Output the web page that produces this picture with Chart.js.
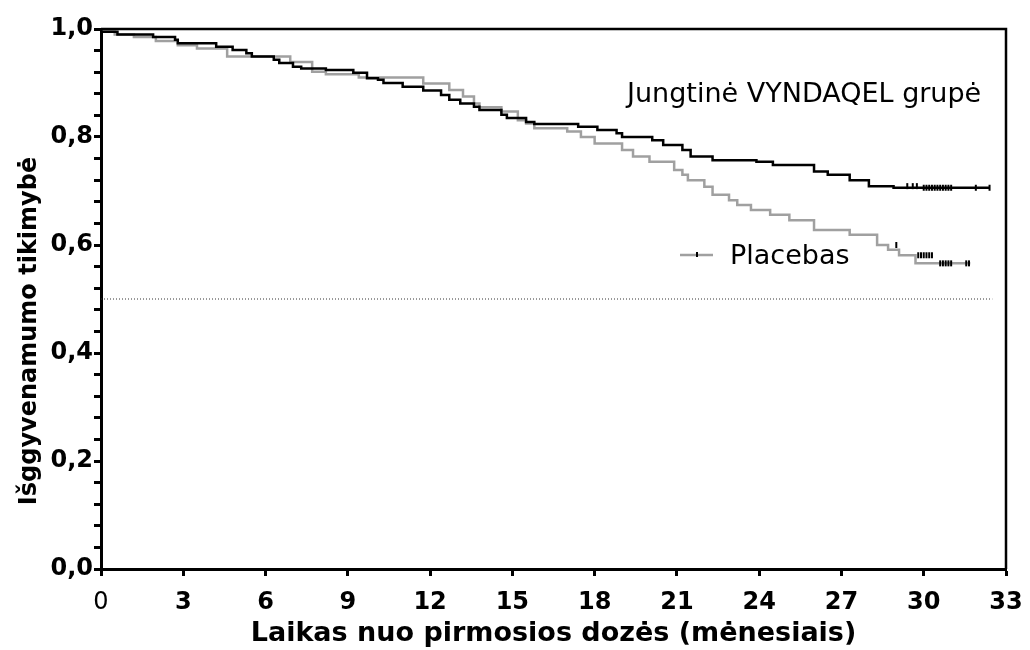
<!DOCTYPE html>
<html>
<head>
<meta charset="utf-8">
<script src="https://cdn.jsdelivr.net/npm/chart.js@4"></script>
<style>
  body { margin: 0; background: #fff; }
  #wrap { width: 1030px; height: 650px; }
</style>
</head>
<body>
<div id="wrap"><canvas id="km"></canvas></div>
<script>
// Kaplan-Meier kreivės: laikas (mėn.) ir išgyvenamumas
const vyndTime = [0, 0.6, 1.9, 2.7, 2.8, 4.2, 4.8, 5.3, 5.5, 6.3, 6.5, 7.0, 7.3, 8.2, 9.2, 9.7, 10.1, 10.3, 11.0, 11.75, 12.4, 12.7, 13.1, 13.6, 13.8, 14.6, 14.8, 15.5, 15.8, 17.4, 18.1, 18.8, 19.0, 20.1, 20.5, 21.2, 21.5, 22.3, 23.9, 24.5, 26.0, 26.5, 27.3, 28.0, 28.9, 30.0, 32.4];
const vyndSurv = [1.0, 0.995, 0.990, 0.985, 0.980, 0.9735, 0.967, 0.961, 0.955, 0.949, 0.943, 0.937, 0.930, 0.927, 0.924, 0.919, 0.909, 0.906, 0.900, 0.893, 0.886, 0.878, 0.869, 0.862, 0.856, 0.850, 0.841, 0.835, 0.828, 0.824, 0.819, 0.813, 0.807, 0.800, 0.794, 0.785, 0.776, 0.764, 0.757, 0.754, 0.748, 0.736, 0.730, 0.720, 0.709, 0.706, 0.706];

const placTime = [0, 0.5, 1.2, 2.0, 2.8, 3.5, 4.6, 6.9, 7.7, 8.2, 9.4, 11.75, 12.7, 13.2, 13.6, 13.8, 14.6, 15.2, 15.5, 15.8, 17.0, 17.5, 18.0, 19.0, 19.4, 20.0, 20.9, 21.2, 21.4, 22.0, 22.3, 22.9, 23.2, 23.7, 24.4, 25.1, 26.0, 27.3, 28.3, 28.7, 29.1, 29.7, 30.5, 31.7];
const placSurv = [1.0, 0.995, 0.990, 0.985, 0.978, 0.970, 0.964, 0.949, 0.939, 0.921, 0.916, 0.910, 0.899, 0.887, 0.875, 0.862, 0.855, 0.847, 0.831, 0.825, 0.816, 0.810, 0.800, 0.788, 0.776, 0.764, 0.754, 0.739, 0.730, 0.720, 0.708, 0.693, 0.683, 0.674, 0.665, 0.656, 0.646, 0.628, 0.619, 0.600, 0.591, 0.581, 0.566, 0.566];

// cenzūruoti stebėjimai
const vyndCensT = [29.4, 29.6, 29.75, 30.0, 30.1, 30.2, 30.3, 30.4, 30.5, 30.6, 30.7, 30.8, 30.9, 31.0, 31.9, 32.4];
const vyndCensS = [0.709, 0.709, 0.709, 0.706, 0.706, 0.706, 0.706, 0.706, 0.706, 0.706, 0.706, 0.706, 0.706, 0.706, 0.706, 0.706];
const placCensT = [29.0, 29.8, 29.9, 30.0, 30.1, 30.2, 30.3, 30.6, 30.7, 30.8, 30.9, 31.0, 31.55, 31.65];
const placCensS = [0.600, 0.581, 0.581, 0.581, 0.581, 0.581, 0.581, 0.566, 0.566, 0.566, 0.566, 0.566, 0.566, 0.566];

const medianT = [0, 32.5];
const medianS = [0.5, 0.5];

const xTicks = [0, 3, 6, 9, 12, 15, 18, 21, 24, 27, 30, 33];

function pts(t, s) {
  return t.map((v, i) => ({ x: v, y: s[i] }));
}

const FONT = '"DejaVu Sans", "Liberation Sans", Arial, sans-serif';

const decor = {
  id: 'decor',
  afterDraw(chart) {
    const { ctx, chartArea: a } = chart;
    ctx.save();
    // viršutinė ir dešinė rėmelio linijos
    ctx.strokeStyle = '#000';
    ctx.lineWidth = 2.5;
    ctx.beginPath();
    ctx.moveTo(a.left, a.top);
    ctx.lineTo(a.right, a.top);
    ctx.lineTo(a.right, a.bottom);
    ctx.stroke();

    ctx.fillStyle = '#000';
    ctx.textBaseline = 'alphabetic';
    ctx.font = '27px ' + FONT;
    ctx.fillText('Jungtinė VYNDAQEL grupė', 627, 102);
    ctx.fillText('Placebas', 730, 264);

    // legendos linija
    ctx.strokeStyle = '#a0a0a0';
    ctx.lineWidth = 2.5;
    ctx.beginPath();
    ctx.moveTo(680, 255);
    ctx.lineTo(713, 255);
    ctx.stroke();
    ctx.strokeStyle = '#000';
    ctx.lineWidth = 2;
    ctx.beginPath();
    ctx.moveTo(697, 252);
    ctx.lineTo(697, 257);
    ctx.stroke();

    // y ašies pavadinimas
    ctx.font = 'bold 24px ' + FONT;
    ctx.textAlign = 'center';
    ctx.translate(36, 331);
    ctx.rotate(-Math.PI / 2);
    ctx.fillText('Išggyvenamumo tikimybė', 0, 0);
    ctx.restore();
  }
};

new Chart(document.getElementById('km').getContext('2d'), {
  type: 'line',
  data: {
    datasets: [
      {
        data: pts(vyndCensT, vyndCensS),
        showLine: false,
        pointStyle: 'line',
        rotation: 90,
        pointRadius: 3,
        borderColor: '#000',
        pointBorderWidth: 2,
        order: 0
      },
      {
        data: pts(placCensT, placCensS),
        showLine: false,
        pointStyle: 'line',
        rotation: 90,
        pointRadius: 3,
        borderColor: '#000',
        pointBorderWidth: 2,
        order: 0
      },
      {
        data: pts(vyndTime, vyndSurv),
        borderColor: '#000',
        borderWidth: 2.5,
        stepped: 'after',
        pointRadius: 0,
        fill: false,
        order: 1
      },
      {
        data: pts(placTime, placSurv),
        borderColor: '#a0a0a0',
        borderWidth: 2.5,
        stepped: 'after',
        pointRadius: 0,
        fill: false,
        order: 2
      },
      {
        data: pts(medianT, medianS),
        borderColor: '#333',
        borderWidth: 1,
        borderDash: [1, 2],
        pointRadius: 0,
        fill: false,
        order: 3
      }
    ]
  },
  options: {
    responsive: true,
    maintainAspectRatio: false,
    animation: false,
    layout: { padding: { top: 29, right: 24, left: 0, bottom: 0 } },
    plugins: {
      legend: { display: false },
      tooltip: { enabled: false }
    },
    scales: {
      x: {
        type: 'linear',
        min: 0,
        max: 33,
        afterBuildTicks(scale) {
          scale.ticks = xTicks.map(v => ({ value: v }));
        },
        afterFit(scale) {
          scale.height = 81;
          scale.paddingLeft = 0;
          scale.paddingRight = 0;
        },
        grid: {
          drawOnChartArea: false,
          drawTicks: true,
          tickLength: 7,
          tickWidth: 3,
          tickColor: '#000'
        },
        border: { display: true, color: '#000', width: 3 },
        ticks: {
          color: '#000',
          padding: 12,
          maxRotation: 0,
          autoSkip: false,
          font: (c) => ({
            family: FONT,
            size: 24,
            weight: c.tick && c.tick.value === 0 ? 'normal' : 'bold'
          })
        },
        title: {
          display: true,
          text: 'Laikas nuo pirmosios dozės (mėnesiais)',
          color: '#000',
          font: { family: FONT, size: 27, weight: 'bold' },
          padding: { top: 0, bottom: 0 }
        }
      },
      y: {
        min: 0,
        max: 1,
        afterBuildTicks(scale) {
          const t = [];
          for (let i = 0; i <= 25; i++) t.push({ value: i * 0.04 });
          scale.ticks = t;
        },
        afterFit(scale) {
          scale.width = 101;
          scale.paddingTop = 0;
          scale.paddingBottom = 0;
        },
        grid: {
          drawOnChartArea: false,
          drawTicks: true,
          tickLength: 7,
          tickWidth: 3,
          tickColor: '#000'
        },
        border: { display: true, color: '#000', width: 3 },
        ticks: {
          color: '#000',
          padding: 1,
          autoSkip: false,
          font: { family: FONT, size: 24, weight: 'bold' },
          callback(v) {
            const r = Math.round(v * 100);
            if (r % 20 !== 0) return '';
            return (r / 100).toFixed(1).replace('.', ',');
          }
        }
      }
    }
  },
  plugins: [decor]
});
</script>
</body>
</html>
